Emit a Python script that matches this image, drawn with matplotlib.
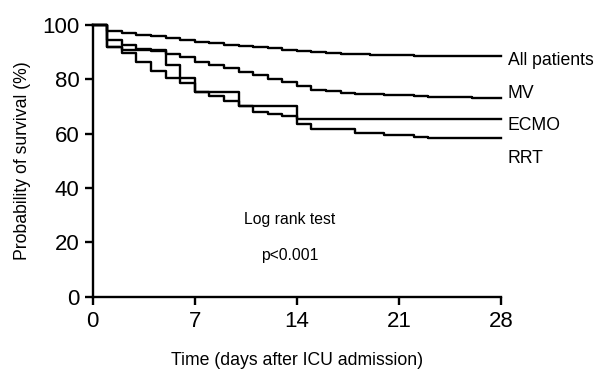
import matplotlib
matplotlib.use("Agg")
import matplotlib.pyplot as plt

plt.rcParams['font.family'] = ['Liberation Sans', 'DejaVu Sans']

# Kaplan-Meier step data (days, survival %)
all_days = list(range(0, 24)) + [28]
all_surv = [100, 97.9, 97.1, 96.3, 95.7, 95.1, 94.5, 93.7, 93.2, 92.7, 92.2, 91.7,
            91.3, 90.8, 90.4, 90.0, 89.7, 89.4, 89.1, 89.0, 88.9, 88.8, 88.7, 88.5, 88.5]

mv_days = list(range(0, 24)) + [26, 28]
mv_surv = [100, 94.5, 92.7, 91.2, 90.3, 89.3, 88.2, 86.4, 85.3, 84.1, 82.7, 81.4,
           80.2, 78.8, 77.4, 76.2, 75.6, 75.0, 74.6, 74.4, 74.2, 74.0, 73.8, 73.4, 72.9, 72.9]

ecmo_days = [0, 1, 2, 5, 6, 7, 10, 14, 28]
ecmo_surv = [100, 92.0, 90.6, 85.3, 80.4, 75.3, 70.1, 65.2, 65.2]

rrt_days = [0, 1, 2, 3, 4, 5, 6, 7, 8, 9, 10, 11, 12, 13, 14, 15, 18, 20, 22, 23, 28]
rrt_surv = [100, 92.0, 89.6, 86.5, 82.9, 80.4, 78.6, 75.3, 73.9, 72.0, 70.0, 68.0,
            67.3, 66.4, 63.7, 61.5, 60.1, 59.5, 58.9, 58.2, 58.2]

labels = ['All patients', 'MV', 'ECMO', 'RRT']
label_y = [86.7, 74.7, 62.8, 50.7]

fig = plt.figure(figsize=(5.98, 3.70), dpi=100)
ax = fig.add_axes([0.155, 0.198, 0.683, 0.735])

for d, s in [(all_days, all_surv), (mv_days, mv_surv),
             (ecmo_days, ecmo_surv), (rrt_days, rrt_surv)]:
    ax.step(d, s, where='post', color='black', lw=1.7, clip_on=False)

# curve labels to the right
for lab, y in zip(labels, label_y):
    ax.text(28.45, y, lab, fontsize=12.7, va='center', ha='left', clip_on=False)

ax.text(13.5, 28.5, 'Log rank test', fontsize=11.3, ha='center', va='center')
ax.text(13.5, 15.3, 'p<0.001', fontsize=11.3, ha='center', va='center')

ax.set_xlim(0, 28)
ax.set_ylim(0, 100)
ax.set_xticks([0, 7, 14, 21, 28])
ax.set_yticks([0, 20, 40, 60, 80, 100])
ax.tick_params(axis='both', labelsize=16, width=1.7, length=5.5, direction='out')
ax.tick_params(axis='x', pad=5)
ax.tick_params(axis='y', pad=4)
for side in ['top', 'right']:
    ax.spines[side].set_visible(False)
for side in ['left', 'bottom']:
    ax.spines[side].set_linewidth(1.7)

ax.set_xlabel('Time (days after ICU admission)', fontsize=12.7, labelpad=14)
ax.set_ylabel('Probability of survival (%)', fontsize=12.7, labelpad=8)

fig.savefig('out.png', dpi=100)
